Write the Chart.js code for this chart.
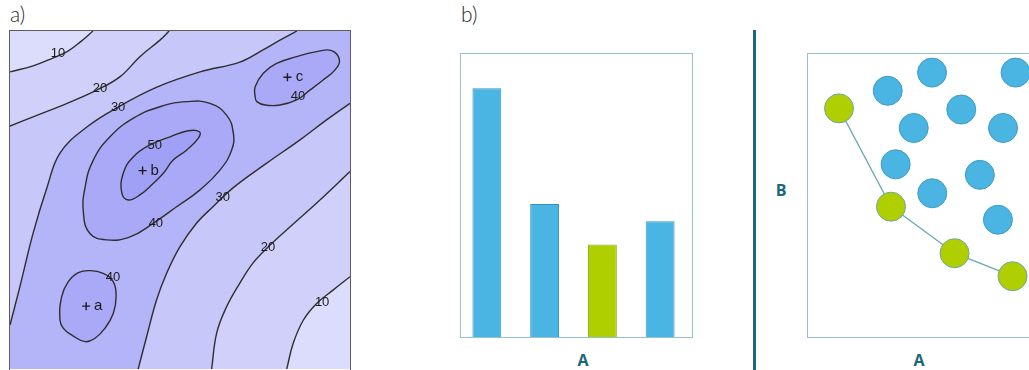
<!DOCTYPE html>
<html>
<head>
<meta charset="utf-8">
<title>Contour map, bar chart and trade-off scatter</title>
<script src="https://cdn.jsdelivr.net/npm/chart.js@4/dist/chart.umd.min.js"></script>
<style>
  html, body { margin: 0; padding: 0; background: #fff; width: 1029px; height: 370px; overflow: hidden; position: relative; }
  .abs { position: absolute; }
  .tag { font-family: Lato, "Open Sans", sans-serif; font-weight: 300; font-size: 21px; color: #2a2a2a; line-height: 1; }
  .axis-name { font-family: "Open Sans", sans-serif; font-weight: 700; font-size: 16px; color: #17687a; line-height: 1; transform: translate(-50%, -50%); }
</style>
</head>
<body>
<div class="abs tag" style="left:10px;top:3px">a)</div>
<div class="abs tag" style="left:461px;top:3px">b)</div>

<!-- panel a: contour map -->
<canvas id="contour" class="abs" width="340" height="338" style="left:10px;top:31px;background:#b4b4f9"></canvas>
<div class="abs" style="left:9px;top:30px;width:342px;height:341px;box-sizing:border-box;border:1.5px solid #5c5c5c"></div>

<!-- panel b, left: bars -->
<div class="abs" style="left:460px;top:52.6px;width:233px;height:285px;box-sizing:border-box;border:1.4px solid #94c1ca"></div>
<canvas id="bars" class="abs" width="231" height="284" style="left:458px;top:53px"></canvas>
<div class="abs axis-name" style="left:583px;top:360px">A</div>

<div class="abs" style="left:752.5px;top:30px;width:3px;height:340px;background:#1b6878"></div>

<!-- panel b, right: scatter -->
<div class="abs" style="left:806.5px;top:52.6px;width:300px;height:285px;box-sizing:border-box;border:1.4px solid #94c1ca"></div>
<div class="abs" style="left:807px;top:53px;width:222px;height:284px;overflow:hidden">
  <canvas id="scatter" width="232" height="284" style="position:absolute;left:0;top:0"></canvas>
</div>
<div class="abs axis-name" style="left:781px;top:190px">B</div>
<div class="abs axis-name" style="left:919px;top:360px">A</div>

<script>
// ---------- contour map data (x, y on a 0–100 grid) ----------
const iso10North = [[0,87.9],[6.8,89.7],[12.6,92.0],[16.8,93.9],[20.6,96.7],[24.4,100]];
const iso20North = [[0,71.9],[6.8,74.6],[16.8,78.6],[25.5,82.5],[32.4,86.5],[38.2,92.4],[44.1,97.3],[46.8,100]];
const iso30North = [[0,13.0],[2.9,24.3],[6.8,40.2],[10.9,53.8],[14.7,63.9],[22.6,71.6],[31.8,77.5],[43.2,83.4],[55.9,87.9],[67.6,90.8],[74.4,94.4],[79.4,97.3],[84.4,100]];
const iso30South = [[37.7,0],[40.2,9.6],[43.1,20.4],[46.1,28.4],[50.0,36.2],[54.9,43.2],[59.7,48.0],[65.6,53.6],[75.5,60.9],[85.3,67.8],[93.1,73.7],[100,78.6]];
const iso20South = [[59.3,0],[60.8,10.7],[63.7,18.4],[67.6,25.4],[71.5,31.4],[75.9,36.1],[82.4,42.1],[90.2,49.1],[100,58.4]];
const iso10South = [[81.4,0],[83.3,7.6],[86.3,14.5],[90.2,19.4],[95.1,23.4],[100,27.3]];
const iso40RingA = [[14.7,14.5],[15.2,21.4],[17.1,25.8],[20.1,28.5],[23.5,29.1],[27.4,28.3],[30.4,25.8],[31.2,21.4],[30.4,16.5],[27.9,12.0],[25.0,9.1],[22.1,8.1],[18.1,10.1],[15.7,12.0]];
const iso40RingB = [[21.6,46.1],[22.1,53.9],[24.5,61.8],[29.4,68.7],[36.3,74.2],[44.1,77.6],[52.0,79.1],[58.8,78.6],[63.7,75.1],[65.7,69.7],[65.2,64.8],[61.8,58.9],[55.9,53.0],[49.0,48.0],[42.1,43.1],[35.3,39.1],[28.4,38.2],[23.5,40.1]];
const iso50RingB = [[32.9,52.0],[33.3,57.9],[36.3,62.8],[41.2,66.3],[47.1,68.7],[52.4,70.5],[55.7,70.2],[55.4,68.3],[52.0,64.8],[48.0,61.8],[45.1,57.9],[42.1,54.9],[38.2,51.5],[34.8,50.0]];
const iso40RingC = [[72.1,80.6],[72.1,83.5],[74.5,87.5],[78.4,90.4],[84.3,92.4],[90.2,93.9],[94.6,94.2],[96.9,91.4],[95.6,88.5],[92.1,85.5],[88.2,82.5],[84.3,79.6],[79.4,78.1],[75.0,78.1],[72.6,79.1]];

const isoLabelText = ['10','20','30','50','40','30','20','10','40','40'];
const isoLabelAt = [[14.1,93.5],[26.5,83.1],[31.8,77.5],[42.6,66.0],[42.9,43.2],[62.6,50.9],[75.9,36.1],[91.8,19.8],[84.7,80.5],[30.3,27.2]];
const peakNames = ['a','b','c'];
const peakAt = [[22.4,18.6],[39.0,58.7],[81.6,86.3]];

// ---------- bar data ----------
const barCategories = ['1','2','3','4'];
const barValues = [87.6, 46.8, 32.6, 40.8];
const barHighlight = 2;

// ---------- scatter data ----------
const cloudA = [34.8, 53.9, 89.9, 46.0, 66.5, 84.5, 38.2, 54.0, 74.5, 82.3];
const cloudB = [86.7, 93.1, 93.1, 73.6, 80.1, 73.6, 60.8, 50.6, 57.1, 41.3];
const frontA = [13.8, 36.2, 63.6, 88.6];
const frontB = [80.5, 45.9, 29.5, 21.4];

// band colours, low to high
const bandLt10 = '#dcdcfc', band10 = '#d0d0fa', band20 = '#c7c7f9', band40 = '#a9a9f8', band50 = '#a0a0f6';
const isoLine = '#2e2e2e';

Chart.defaults.font.family = '"Liberation Sans", Arial, sans-serif';

const toXY = arr => arr.map(([x, y]) => ({x, y}));

function openIso(points, fill, color, order) {
  return { data: toXY(points), showLine: true, tension: 0.4, pointRadius: 0,
    borderColor: isoLine, borderWidth: 1.4, fill, backgroundColor: color, order };
}
function ringIso(points, color, order) {
  return { data: toXY(points), closed: true, showLine: true, tension: 0.45, pointRadius: 0,
    borderColor: isoLine, borderWidth: 1.4, fill: 'shape', backgroundColor: color, order };
}

// closed isolines: let the line element run back to its first point with a smooth spline
const closeRings = {
  id: 'closeRings',
  afterDatasetUpdate(chart, args) {
    const ds = chart.data.datasets[args.index];
    if (!ds.closed) return;
    const line = args.meta.dataset;
    line._loop = true;
    line._fullLoop = true;
    delete line._segments;
    delete line._path;
    line._pointsUpdated = false;
  }
};

// level numbers and peak letters
const isoText = {
  id: 'isoText',
  afterDatasetsDraw(chart) {
    const {ctx, scales: {x, y}} = chart;
    ctx.save();
    ctx.fillStyle = '#1c1c1c';
    ctx.textAlign = 'center';
    ctx.textBaseline = 'middle';
    ctx.font = '13px "Liberation Sans", Arial, sans-serif';
    isoLabelText.forEach((t, i) => ctx.fillText(t, x.getPixelForValue(isoLabelAt[i][0]), y.getPixelForValue(isoLabelAt[i][1])));
    ctx.font = '15px "Liberation Sans", Arial, sans-serif';
    peakNames.forEach((n, i) => ctx.fillText(n, x.getPixelForValue(peakAt[i][0]) + 12, y.getPixelForValue(peakAt[i][1])));
    ctx.restore();
  }
};

const hiddenAxes = {
  x: { type: 'linear', min: 0, max: 100, display: false },
  y: { type: 'linear', min: 0, max: 100, display: false }
};
const quiet = { legend: { display: false }, tooltip: { enabled: false } };
const flush = { autoPadding: false, padding: 0 };

new Chart(document.getElementById('contour'), {
  type: 'scatter',
  data: { datasets: [
    { data: toXY(peakAt), pointStyle: 'cross', pointRadius: 4, pointBorderColor: '#1c1c1c', pointBorderWidth: 1.4, showLine: false, order: 0 },
    ringIso(iso50RingB, band50, 2),
    ringIso(iso40RingB, band40, 3),
    ringIso(iso40RingA, band40, 3),
    ringIso(iso40RingC, band40, 3),
    openIso(iso10North, 'end', bandLt10, 6),
    openIso(iso20North, 'end', band10, 7),
    openIso(iso30North, 'end', band20, 8),
    openIso(iso10South, 'start', bandLt10, 6),
    openIso(iso20South, 'start', band10, 7),
    openIso(iso30South, 'start', band20, 8)
  ]},
  options: {
    responsive: false, animation: false, events: [],
    layout: flush,
    scales: hiddenAxes,
    plugins: quiet
  },
  plugins: [closeRings, isoText]
});

new Chart(document.getElementById('bars'), {
  type: 'bar',
  data: {
    labels: barCategories,
    datasets: [{
      data: barValues,
      backgroundColor: barValues.map((_, i) => i === barHighlight ? '#afcf00' : '#4ab4e3'),
      borderColor: barValues.map((_, i) => i === barHighlight ? '#8aa81c' : '#2f93bd'),
      borderWidth: 1,
      barPercentage: 0.5,
      categoryPercentage: 1
    }]
  },
  options: {
    responsive: false, animation: false, events: [],
    layout: flush,
    scales: {
      x: { display: false },
      y: { min: 0, max: 100, display: false }
    },
    plugins: quiet
  }
});

new Chart(document.getElementById('scatter'), {
  type: 'scatter',
  data: { datasets: [
    { data: frontA.map((a, i) => ({x: a, y: frontB[i]})), showLine: true, tension: 0,
      borderColor: '#6aa9b5', borderWidth: 1.3,
      pointRadius: 14.5, pointBackgroundColor: '#afcf00', pointBorderColor: '#6ea5a5', pointBorderWidth: 1, clip: false },
    { data: cloudA.map((a, i) => ({x: a, y: cloudB[i]})),
      pointRadius: 14.5, pointBackgroundColor: '#4ab4e3', pointBorderColor: '#3f9cc4', pointBorderWidth: 1, clip: false }
  ]},
  options: {
    responsive: false, animation: false, events: [],
    layout: flush,
    scales: hiddenAxes,
    plugins: quiet
  }
});
</script>
</body>
</html>
